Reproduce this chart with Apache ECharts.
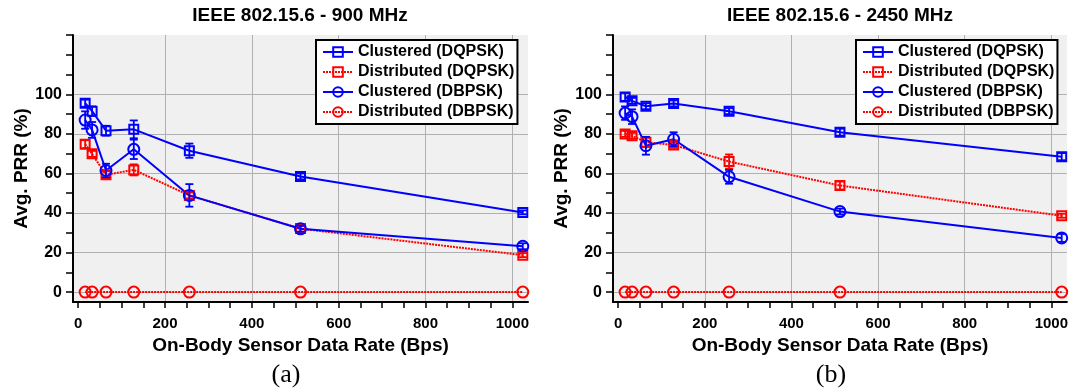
<!DOCTYPE html>
<html>
<head>
<meta charset="utf-8">
<script src="https://cdn.jsdelivr.net/npm/echarts@6/dist/echarts.min.js"></script>
<style>
html,body{margin:0;padding:0;background:#fff;}
#chart{width:1071px;height:390px;}
</style>
</head>
<body>
<div id="chart"></div>
<script>
// ---- data ----
const rates = [16, 32, 64, 128, 256, 512, 1024];
const seriesNames = ['Clustered (DQPSK)', 'Distributed (DQPSK)', 'Clustered (DBPSK)', 'Distributed (DBPSK)'];
const panelTitles = ['IEEE 802.15.6 - 900 MHz', 'IEEE 802.15.6 - 2450 MHz'];
const captions = ['(a)', '(b)'];
const xTickValues = [0, 50, 100, 150, 200, 250, 300, 350, 400, 450, 500, 550, 600, 650, 700, 750, 800, 850, 900, 950, 1000];
const xLabelValues = [0, 200, 400, 600, 800, 1000];
const yTickValues = [0, 10, 20, 30, 40, 50, 60, 70, 80, 90, 100, 110, 120, 130];
const yLabelValues = [0, 20, 40, 60, 80, 100];

// 900 MHz
const prr900ClusteredDQPSK   = [95.5, 91.5, 81.6, 82.3, 71.5, 58.5, 40.3];
const err900ClusteredDQPSK   = [1.8, 2.4, 2.5, 4.5, 3.6, 1.5, 1.0];
const prr900DistributedDQPSK = [74.8, 69.9, 59.3, 61.8, 48.9, 32.1, 18.7];
const err900DistributedDQPSK = [2.0, 1.5, 1.8, 2.8, 1.5, 1.5, 1.0];
const prr900ClusteredDBPSK   = [87.0, 82.0, 61.5, 72.2, 48.9, 32.0, 23.2];
const err900ClusteredDBPSK   = [4.4, 4.0, 3.4, 4.9, 5.7, 1.5, 1.5];
const prr900DistributedDBPSK = [0, 0, 0, 0, 0, 0, 0];
const err900DistributedDBPSK = [0, 0, 0, 0, 0, 0, 0];

// 2450 MHz
const prr2450ClusteredDQPSK   = [98.7, 96.7, 94.0, 95.4, 91.5, 80.8, 68.5];
const err2450ClusteredDQPSK   = [2.0, 1.5, 1.5, 1.5, 1.5, 1.8, 1.8];
const prr2450DistributedDQPSK = [80.0, 79.0, 75.8, 74.4, 66.0, 53.9, 38.6];
const err2450DistributedDQPSK = [1.5, 1.5, 2.5, 1.5, 3.6, 2.0, 1.0];
const prr2450ClusteredDBPSK   = [90.5, 88.7, 74.0, 77.3, 58.3, 40.7, 27.4];
const err2450ClusteredDBPSK   = [3.4, 3.7, 4.5, 3.5, 3.5, 1.5, 2.0];
const prr2450DistributedDBPSK = [0, 0, 0, 0, 0, 0, 0];
const err2450DistributedDBPSK = [0, 0, 0, 0, 0, 0, 0];

const panels = [
  { vals: [prr900ClusteredDQPSK, prr900DistributedDQPSK, prr900ClusteredDBPSK, prr900DistributedDBPSK],
    errs: [err900ClusteredDQPSK, err900DistributedDQPSK, err900ClusteredDBPSK, err900DistributedDBPSK] },
  { vals: [prr2450ClusteredDQPSK, prr2450DistributedDQPSK, prr2450ClusteredDBPSK, prr2450DistributedDBPSK],
    errs: [err2450ClusteredDQPSK, err2450DistributedDQPSK, err2450ClusteredDBPSK, err2450DistributedDBPSK] }
];

// ---- styles ----
const FONT = "'Liberation Sans', Arial, Helvetica, sans-serif";
const BLUE = '#0000ff', RED = '#ff0000';
const styles = [
  { color: BLUE, symbol: 'rect',   size: 9,  dash: 'solid' },
  { color: RED,  symbol: 'rect',   size: 9,  dash: [2, 1] },
  { color: BLUE, symbol: 'circle', size: 11, dash: 'solid' },
  { color: RED,  symbol: 'circle', size: 11, dash: [2, 1] }
];
const gridLefts = [73, 613];

function errRenderer(color) {
  return function (params, api) {
    const x = api.value(0), lo = api.value(1), hi = api.value(2);
    if (!(hi - lo > 0)) return null;
    const a = api.coord([x, lo]), b = api.coord([x, hi]);
    const w = 4;
    const st = { stroke: color, lineWidth: 1.8 };
    return { type: 'group', children: [
      { type: 'line', shape: { x1: a[0], y1: a[1], x2: b[0], y2: b[1] }, style: st },
      { type: 'line', shape: { x1: a[0] - w, y1: a[1], x2: a[0] + w, y2: a[1] }, style: st },
      { type: 'line', shape: { x1: b[0] - w, y1: b[1], x2: b[0] + w, y2: b[1] }, style: st }
    ]};
  };
}

const grid = [], xAxis = [], yAxis = [], series = [], legend = [], graphic = [];
panels.forEach((p, k) => {
  grid.push({ left: gridLefts[k], top: 35, width: 455, height: 267, show: true,
              backgroundColor: '#f0f0f0', borderWidth: 0 });
  // main axes
  xAxis.push({
    type: 'value', gridIndex: k, min: -12, max: 1036,
    name: 'On-Body Sensor Data Rate (Bps)', nameLocation: 'middle', nameGap: 34,
    nameTextStyle: { fontFamily: FONT, fontWeight: 'bold', fontSize: 19, color: '#000' },
    axisLine: { show: true, onZero: false, lineStyle: { color: '#000', width: 2 } },
    axisTick: { show: true, inside: false, length: 6, customValues: xTickValues, lineStyle: { color: '#000', width: 1.5 } },
    axisLabel: { customValues: xLabelValues, margin: 14, fontFamily: FONT, fontWeight: 'bold', fontSize: 15, color: '#000',
                 formatter: v => String(v) },
    splitLine: { show: false }
  });
  // helper axis for vertical grid lines
  xAxis.push({
    type: 'value', gridIndex: k, min: -12, max: 1036, position: 'bottom',
    axisLine: { show: false }, axisLabel: { show: false },
    axisTick: { show: false, customValues: [200, 400, 600, 800, 1000] },
    splitLine: { show: true, lineStyle: { color: '#b0b0b0', width: 1 } }
  });
  yAxis.push({
    type: 'value', gridIndex: k, min: -5, max: 130,
    name: 'Avg. PRR (%)', nameLocation: 'middle', nameGap: 41, nameRotate: 90,
    nameTextStyle: { fontFamily: FONT, fontWeight: 'bold', fontSize: 19, color: '#000' },
    axisLine: { show: true, onZero: false, lineStyle: { color: '#000', width: 2 } },
    axisTick: { show: true, inside: false, length: 7, customValues: yTickValues, lineStyle: { color: '#000', width: 1.5 } },
    axisLabel: { customValues: yLabelValues, margin: 11, fontFamily: FONT, fontWeight: 'bold', fontSize: 16, color: '#000' },
    splitLine: { show: false }
  });
  yAxis.push({
    type: 'value', gridIndex: k, min: -5, max: 130, position: 'left',
    axisLine: { show: false }, axisLabel: { show: false },
    axisTick: { show: false, customValues: [0, 20, 40, 60, 80, 100] },
    splitLine: { show: true, lineStyle: { color: '#b0b0b0', width: 1 } }
  });

  seriesNames.forEach((name, i) => {
    const s = styles[i];
    series.push({
      type: 'line', name: name, xAxisIndex: 2 * k, yAxisIndex: 2 * k,
      data: rates.map((r, j) => [r, p.vals[i][j]]),
      symbol: s.symbol, symbolSize: s.size, showAllSymbol: true,
      itemStyle: { color: 'rgba(0,0,0,0)', borderColor: s.color, borderWidth: 2 },
      lineStyle: { color: s.color, width: 2, type: s.dash },
      emphasis: { disabled: true }, animation: false, z: 3
    });
    series.push({
      type: 'custom', name: 'err-' + k + '-' + i, xAxisIndex: 2 * k, yAxisIndex: 2 * k,
      data: rates.map((r, j) => [r, p.vals[i][j] - p.errs[i][j], p.vals[i][j] + p.errs[i][j]]),
      encode: { x: 0, y: [1, 2] },
      renderItem: errRenderer(s.color), animation: false, z: 4, silent: true
    });
  });

  legend.push({
    data: seriesNames, orient: 'vertical',
    left: gridLefts[k] + 243, top: 40,
    backgroundColor: '#ffffff', borderColor: '#000', borderWidth: 2,
    padding: [4, 3, 4, 6], itemGap: 4, itemWidth: 30, itemHeight: 12,
    textStyle: { fontFamily: FONT, fontWeight: 'bold', fontSize: 16, color: '#000', lineHeight: 16 },
    selectedMode: false
  });

  graphic.push({
    type: 'text', x: gridLefts[k] + 227, y: 16, z: 10,
    style: { text: panelTitles[k], align: 'center', verticalAlign: 'middle',
             font: "bold 19px " + FONT, fill: '#000' }
  });
  graphic.push({
    type: 'text', x: k === 0 ? 286 : 831, y: 375, z: 10,
    style: { text: captions[k], align: 'center', verticalAlign: 'middle',
             font: "26px 'Liberation Serif', 'Times New Roman', serif", fill: '#000' }
  });
});

const chart = echarts.init(document.getElementById('chart'), null, { renderer: 'canvas' });
chart.setOption({
  backgroundColor: '#ffffff',
  animation: false,
  grid, xAxis, yAxis, series, legend, graphic
});
</script>
</body>
</html>
